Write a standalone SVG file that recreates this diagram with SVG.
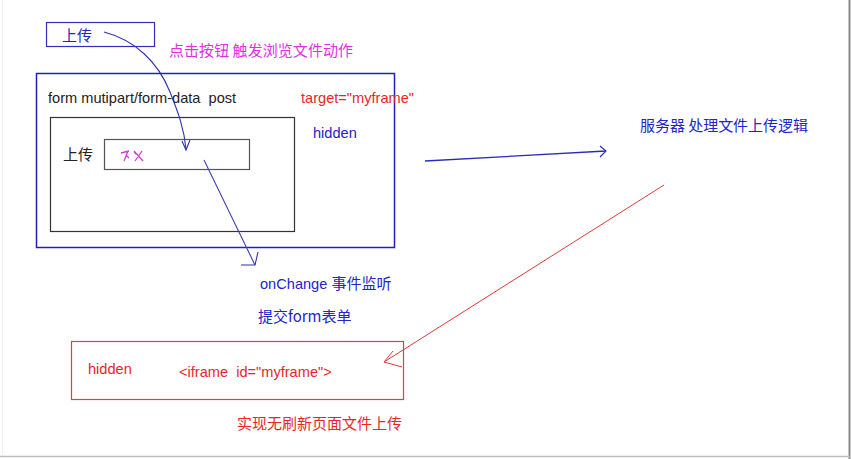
<svg xmlns="http://www.w3.org/2000/svg" width="851" height="459" viewBox="0 0 851 459">
<style>
text{font-family:"Liberation Sans","Noto Sans CJK SC",sans-serif;font-size:14.6px;white-space:pre}
.cjk{font-family:"Noto Sans CJK SC","Liberation Sans",sans-serif;font-size:15px}
.blue{fill:#2424c8}
.red{fill:#e8262a}
.mag{fill:#e030e0}
.blk{fill:#222}
.box{fill:none}
</style>
<rect x="0" y="0" width="851" height="459" fill="#fff"/>
<line x1="849.5" y1="0" x2="849.5" y2="459" stroke="#8a8a8a" stroke-width="2"/>
<line x1="0" y1="456.5" x2="851" y2="456.5" stroke="#bdbdbd" stroke-width="1.5"/>
<line x1="2.5" y1="0" x2="2.5" y2="456" stroke="#f0f0f0" stroke-width="1"/>

<g id="upload-btn">
<rect class="box" x="46.5" y="22.5" width="108" height="24" stroke="#3030c0" stroke-width="1.2"/>
<text class="cjk blue" x="62" y="41">上传</text>
</g>
<text id="label-click" class="cjk mag" x="169" y="56" textLength="184">点击按钮 触发浏览文件动作</text>

<g id="form">
<rect class="box" x="36.5" y="73.5" width="358" height="174" stroke="#2020c0" stroke-width="1.5"/>
<text class="blk" x="48" y="103" xml:space="preserve">form mutipart/form-data  post</text>
<text class="red" x="301" y="103">target="myframe"</text>
<text class="blue" x="313" y="138">hidden</text>
</g>
<g id="inner">
<rect class="box" x="50.5" y="117.5" width="244" height="114" stroke="#333" stroke-width="1.2"/>
<text class="cjk blk" x="63" y="160">上传</text>
</g>
<g id="input">
<rect class="box" x="104.5" y="139.5" width="145" height="30" stroke="#555" stroke-width="1.2"/>
<path d="M121 153 L129 151 M128 151 L124 161 M126 155 L129 158 M134 151 L143 161 M142 151 L135 161 M136 154 L134 152" stroke="#d040d0" stroke-width="1.3" fill="none"/>
</g>

<g id="server">
<text class="cjk blue" x="640" y="131" textLength="168">服务器 处理文件上传逻辑</text>
</g>

<g id="iframe">
<rect class="box" x="71.5" y="341.5" width="332" height="58" stroke="#e04040" stroke-width="1.2"/>
<text class="red" x="88" y="374">hidden</text>
<text class="red" x="179" y="377" xml:space="preserve">&lt;iframe  id="myframe"&gt;</text>
</g>
<text id="label-result" class="cjk red" x="237" y="429" textLength="165">实现无刷新页面文件上传</text>

<text id="label-onchange" class="blue" x="260" y="289">onChange <tspan class="cjk">事件监听</tspan></text>
<text id="label-submit" class="cjk blue" x="258" y="322">提交form表单</text>

<g id="connectors" fill="none">
<path d="M104 32 C135 40 158 62 170 92 C178 112 184 128 186 149" stroke="#3030b0" stroke-width="1.1"/>
<path d="M182 141 L186 150 L190 140" stroke="#3030b0" stroke-width="1.1"/>
<path d="M204 160 L255 265" stroke="#4040b8" stroke-width="1.1"/>
<path d="M241 265 L255 265 L258 252" stroke="#3030b0" stroke-width="1.1"/>
<path d="M425 161 L606 151" stroke="#2a2ac0" stroke-width="1.3"/>
<path d="M600 146 L606 151 L600 157" stroke="#2a2ac0" stroke-width="1.1"/>
<path d="M664 185 L384 362" stroke="#e03a3a" stroke-width="1"/>
<path d="M393 351 L384 362 L402 367" stroke="#e03a3a" stroke-width="1"/>
</g>
</svg>
